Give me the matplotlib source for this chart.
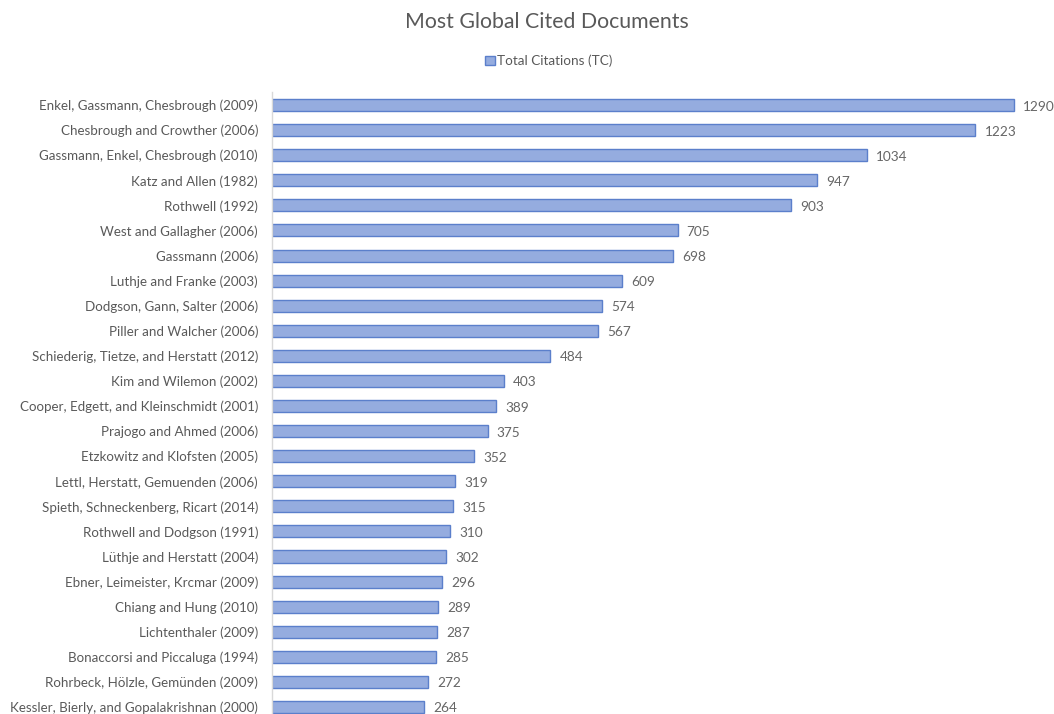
import matplotlib
matplotlib.use("Agg")
import matplotlib.pyplot as plt
from matplotlib.patches import Patch

labels = [
    "Enkel, Gassmann, Chesbrough (2009)",
    "Chesbrough and Crowther (2006)",
    "Gassmann, Enkel, Chesbrough (2010)",
    "Katz and Allen (1982)",
    "Rothwell (1992)",
    "West and Gallagher (2006)",
    "Gassmann (2006)",
    "Luthje and Franke (2003)",
    "Dodgson, Gann, Salter (2006)",
    "Piller and Walcher (2006)",
    "Schiederig, Tietze, and Herstatt (2012)",
    "Kim and Wilemon (2002)",
    "Cooper, Edgett, and Kleinschmidt (2001)",
    "Prajogo and Ahmed (2006)",
    "Etzkowitz and Klofsten (2005)",
    "Lettl, Herstatt, Gemuenden (2006)",
    "Spieth, Schneckenberg, Ricart (2014)",
    "Rothwell and Dodgson (1991)",
    "Lüthje and Herstatt (2004)",
    "Ebner, Leimeister, Krcmar (2009)",
    "Chiang and Hung (2010)",
    "Lichtenthaler (2009)",
    "Bonaccorsi and Piccaluga (1994)",
    "Rohrbeck, Hölzle, Gemünden (2009)",
    "Kessler, Bierly, and Gopalakrishnan (2000)",
]
values = [1290, 1223, 1034, 947, 903, 705, 698, 609, 574, 567, 484, 403, 389,
          375, 352, 319, 315, 310, 302, 296, 289, 287, 285, 272, 264]
series_name = "Total Citations (TC)"
title = "Most Global Cited Documents"

plt.rcParams['font.family'] = ['Lato', 'DejaVu Sans']
text_color = "#595959"
fill = "#95ACDF"
edge = "#5B7FCB"
W, H = 1054, 714
fig = plt.figure(figsize=(W / 100, H / 100), dpi=100)
left, right, top, bottom = 272, 1040, 92, 714
ax = fig.add_axes([left / W, 1 - bottom / H, (right - left) / W, (bottom - top) / H])

y = list(range(len(values)))
ax.barh(y, values, height=0.48, color=fill, edgecolor=edge, linewidth=1.0)
scale = (1014 - 272) / 1290
ax.set_xlim(0, (right - left) / scale)
ax.set_ylim(24.28, -0.52)
ax.set_yticks(y)
ax.set_yticklabels(labels, fontsize=9.6, color=text_color)
ax.tick_params(axis='y', length=0, pad=10)
ax.set_xticks([])
for s in ["top", "right", "bottom"]:
    ax.spines[s].set_visible(False)
ax.spines["left"].set_color("#D9D9D9")
ax.spines["left"].set_linewidth(1.0)

for yi, v in zip(y, values):
    ax.text(v + 16, yi + 0.06, str(v), va='center', ha='left', fontsize=9.8, color="#666666")

fig.text(547 / W, 1 - 22 / H, title, ha='center', va='center', fontsize=15.3, color=text_color)
handle = Patch(facecolor=fill, edgecolor=edge, label=series_name)
fig.legend(handles=[handle], loc='center', bbox_to_anchor=(549 / W, 1 - 61 / H),
           frameon=False, fontsize=9.7, labelcolor=text_color, handlelength=0.7,
           handleheight=0.7, handletextpad=0.2)

fig.savefig("out.png", dpi=100, facecolor="white")
